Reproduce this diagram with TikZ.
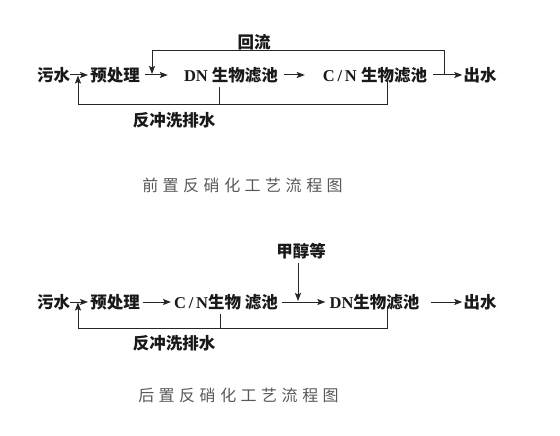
\documentclass[tikz,border=0pt]{standalone}
\usepackage{fontspec}
\setmainfont{Liberation Serif}
\newfontfamily\cjk{Noto Sans CJK SC}
\usetikzlibrary{arrows.meta}
\begin{document}
\begin{tikzpicture}[x=1pt,y=-1pt,
  lbl/.style={font=\fontsize{16.5}{18}\selectfont\bfseries, inner sep=0pt, text=black!90},
  captxt/.style={font=\fontsize{16}{18}\selectfont, inner sep=0pt, text=black!65},
  ln/.style={line width=1pt, black!85},
  arr/.style={ln, -{Stealth[length=8pt,width=6pt,inset=1.5pt]}}]
\path[use as bounding box, fill=white] (0,0) rectangle (560,436);

% ---------- top diagram ----------
\node[lbl] (wsa) at (53.5,75) {\cjk 污水};
\node[lbl] (ycla) at (115,75) {\cjk 预处理};
\node[lbl] (dna) at (231,75) {DN \cjk 生物滤池};
\node[lbl] (cna) at (375,75) {C\,/\,N \cjk 生物滤池};
\node[lbl] (csa) at (480,75) {\cjk 出水};
\node[lbl] (hla) at (254,42) {\cjk 回流};
\node[lbl] (fca) at (174,120) {\cjk 反冲洗排水};
\node[captxt] (capa) at (242.5,185) {\cjk 前\hspace{4.5pt}置\hspace{4.5pt}反\hspace{4.5pt}硝\hspace{4.5pt}化\hspace{4.5pt}工\hspace{4.5pt}艺\hspace{4.5pt}流\hspace{4.5pt}程\hspace{4.5pt}图};

\coordinate (ja) at (78,75);
\coordinate (bwa) at (78,105);
\coordinate (bda) at (219,105);
\coordinate (bca) at (387,105);
\coordinate (ra1) at (444,75);
\coordinate (ra2) at (444,51);
\coordinate (ra3) at (152,51);
\coordinate (ra4) at (152,75);

\draw[arr, shorten >=2pt] (wsa.east) -- (ycla.west);
\draw[arr, shorten <=5pt, shorten >=16pt] (ycla.east) -- (dna.west);
\draw[arr, shorten <=6pt, shorten >=18pt] (dna.east) -- (cna.west);
\draw[arr, shorten <=6pt, shorten >=1pt] (cna.east) -- (csa.west);
\draw[arr, shorten >=1pt] (ra1) -- (ra2) -- (ra3) -- (ra4);
\draw[ln, shorten <=4pt] (dna.south -| bda) -- (bda);
\draw[arr, shorten >=0.5pt] ([yshift=4pt]cna.south -| bca) -- (bca) -- (bwa) -- (ja);

% ---------- bottom diagram ----------
\node[lbl] (wsb) at (53.5,302) {\cjk 污水};
\node[lbl] (yclb) at (115,302) {\cjk 预处理};
\node[lbl] (cnb) at (226,302) {C\,/\,N\cjk 生物 滤池};
\node[lbl] (jcb) at (301,251) {\cjk 甲醇等};
\node[lbl] (dnb) at (374.5,302) {DN\cjk 生物滤池};
\node[lbl] (csb) at (480,302) {\cjk 出水};
\node[lbl] (fcb) at (174,343) {\cjk 反冲洗排水};
\node[captxt] (capb) at (238.5,395) {\cjk 后\hspace{4.5pt}置\hspace{4.5pt}反\hspace{4.5pt}硝\hspace{4.5pt}化\hspace{4.5pt}工\hspace{4.5pt}艺\hspace{4.5pt}流\hspace{4.5pt}程\hspace{4.5pt}图};

\coordinate (jb) at (78,302);
\coordinate (bwb) at (78,328);
\coordinate (bdb) at (220,328);
\coordinate (bcb) at (387,328);
\coordinate (mb) at (298,302);

\draw[arr, shorten >=2pt] (wsb.east) -- (yclb.west);
\draw[arr, shorten <=3pt, shorten >=3pt] (yclb.east) -- (cnb.west);
\draw[arr, shorten <=4pt, shorten >=4pt] (cnb.east) -- (dnb.west);
\draw[arr, shorten <=11pt, shorten >=1pt] (dnb.east) -- (csb.west);
\draw[arr, shorten <=4pt, shorten >=1pt] (jcb.south -| mb) -- (mb);
\draw[ln, shorten <=4pt] (cnb.south -| bdb) -- (bdb);
\draw[arr, shorten >=0.5pt] ([yshift=4pt]dnb.south -| bcb) -- (bcb) -- (bwb) -- (jb);
\end{tikzpicture}
\end{document}
